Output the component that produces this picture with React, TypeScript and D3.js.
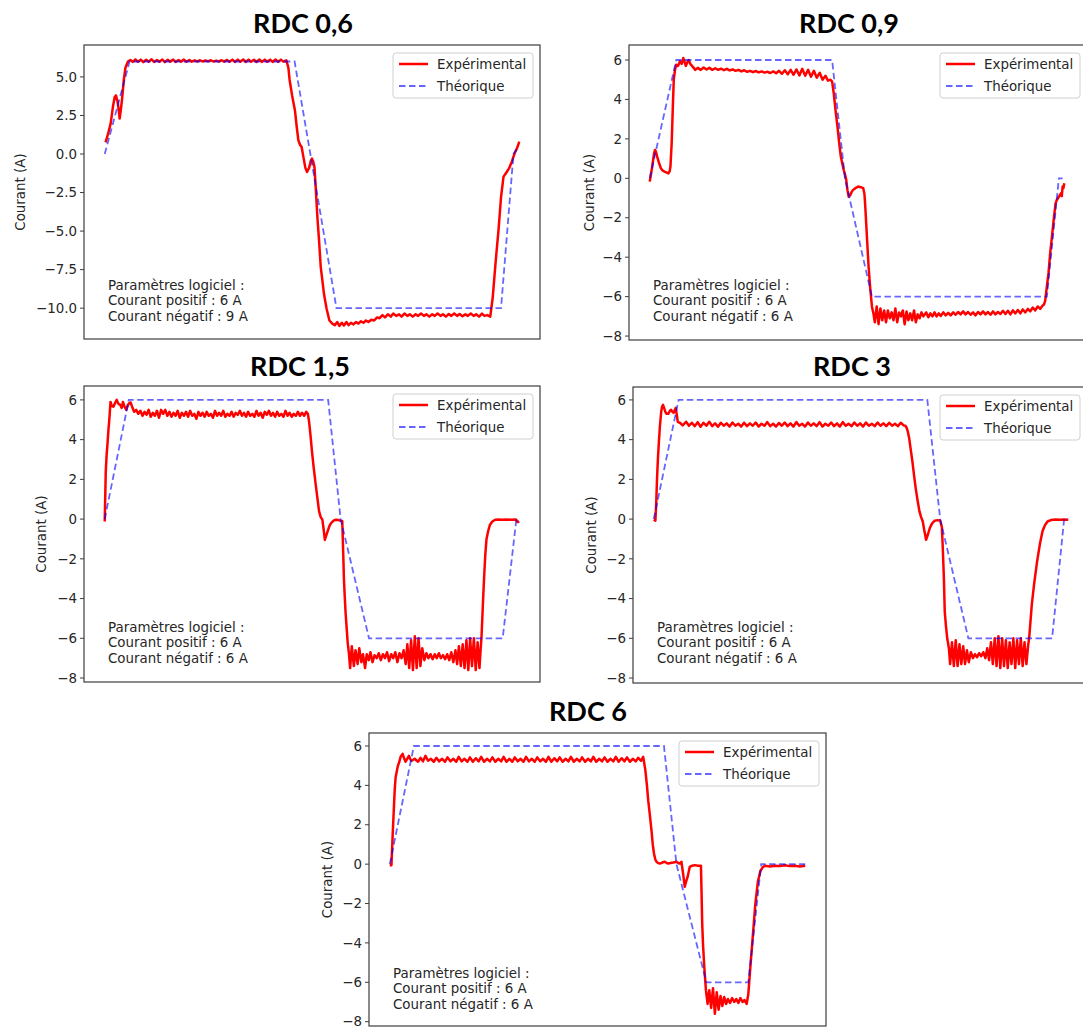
import React from 'react';
import * as d3 from 'd3';

type Pt = [number, number];

// ---------- DATA (x = relative time 0..100, y = current in A) ----------
const rdc06Experimental: Pt[] = [
  [0.2,0.75],[0.8,1.3],[1.45,2.0],[2.0,3.1],[2.4,3.7],[2.7,3.8],[3.1,3.4],[3.4,2.8],[3.6,2.3],[3.9,2.9],[4.2,3.6],[4.6,4.8],[5.0,5.6],[5.6,6.0],[6.2,6.1],
  [6.8,5.97],[7.4,6.13],[8.0,5.98],[8.7,6.12],[9.3,5.96],[10.0,6.11],[10.6,5.99],[11.3,6.14],[11.9,5.97],[12.6,6.1],[13.2,5.98],[13.9,6.13],[14.5,5.96],[15.2,6.11],[15.8,5.99],[16.5,6.12],[17.1,5.97],[17.8,6.1],[18.4,5.99],[19.1,6.12],[19.7,5.98],[20.4,6.1],[21.0,5.99],[21.7,6.08],[22.3,6.0],[23.0,6.08],[23.6,6.0],[24.3,6.07],[24.9,6.01],[25.6,6.08],[26.2,6.0],[26.9,6.06],[27.5,6.0],[28.2,6.08],[28.8,5.99],[29.5,6.1],[30.1,5.98],[30.8,6.12],[31.4,5.97],[32.1,6.12],[32.7,5.98],[33.4,6.13],[34.0,5.97],[34.7,6.12],[35.3,5.98],[36.0,6.11],[36.6,5.97],[37.3,6.13],[37.9,5.97],[38.6,6.12],[39.2,5.98],[39.9,6.12],[40.5,5.97],[41.2,6.13],[41.8,5.98],[42.5,6.12],[43.1,5.99],[43.8,6.08],
  [44.3,5.6],[44.6,4.8],[45.2,3.8],[45.9,2.8],[46.3,1.8],[46.7,0.9],[47.1,0.6],[47.5,0.45],[48.0,-0.3],[48.4,-0.9],[48.8,-1.17],[49.3,-0.9],[49.7,-0.45],[50.0,-0.3],[50.3,-0.5],[50.6,-0.85],[50.9,-2.2],[51.3,-4.1],[51.7,-5.6],[52.1,-7.3],[52.5,-8.2],[52.9,-9.1],[53.5,-10.0],[54.2,-10.8],[54.9,-11.0],
  [55.5,-11.1],[56.1,-10.9],[56.6,-11.15],[57.2,-10.95],[57.7,-11.12],[58.3,-10.9],[58.8,-11.1],[59.4,-10.95],[60.0,-11.05],[60.6,-10.9],[61.2,-11.0],[61.8,-10.85],[62.4,-10.95],[63.0,-10.8],[63.6,-10.9],[64.3,-10.75],[65.0,-10.8],[65.7,-10.6],[66.3,-10.65],[67.0,-10.45],[67.6,-10.6],[68.3,-10.4],[69.0,-10.55],[69.6,-10.35],[70.3,-10.5],[71.0,-10.4],[71.6,-10.55],[72.3,-10.35],[73.0,-10.5],[73.6,-10.4],[74.3,-10.55],[75.0,-10.4],[75.6,-10.5],[76.3,-10.35],[77.0,-10.5],[77.6,-10.4],[78.3,-10.55],[79.0,-10.4],[79.6,-10.5],[80.3,-10.35],[81.0,-10.5],[81.6,-10.4],[82.3,-10.55],[83.0,-10.38],[83.6,-10.5],[84.3,-10.35],[85.0,-10.5],[85.6,-10.38],[86.3,-10.52],[87.0,-10.4],[87.6,-10.5],[88.3,-10.35],[89.0,-10.5],[89.6,-10.4],[90.3,-10.55],[91.0,-10.35],[91.6,-10.5],[92.3,-10.45],[93.0,-10.55],
  [93.6,-9.3],[94.3,-7.0],[95.0,-4.9],[95.6,-2.8],[96.2,-1.47],[96.9,-1.2],[97.5,-0.95],[98.2,-0.5],[98.9,0.06],[99.5,0.4],[100,0.8],
];
const rdc06Theoretical: Pt[] = [[0,0],[6.0,6],[45.8,6],[49.6,0],[55.9,-10],[95.6,-10],[98.6,0],[99.4,0.3]];

const rdc09Experimental: Pt[] = [
  [0,-0.17],[0.3,0.2],[0.6,0.6],[1.0,1.2],[1.25,1.44],[1.5,1.35],[1.8,1.1],[2.2,0.8],[2.7,0.5],[3.1,0.4],[3.5,0.34],[4.0,0.3],[4.5,0.25],[4.8,0.35],[5.0,0.6],[5.3,1.8],[5.6,3.8],[5.8,5.0],[6.1,5.5],[6.4,5.76],[6.8,5.7],[7.3,5.93],[7.7,5.8],[8.1,6.1],[8.4,5.9],[8.7,5.7],[9.0,5.85],[9.4,6.0],[9.8,5.8],[10.2,5.7],[10.6,5.6],[11.0,5.5],
  [11.6,5.6],[12.3,5.5],[13.0,5.62],[13.7,5.52],[14.4,5.6],[15.1,5.5],[15.8,5.58],[16.5,5.5],[17.2,5.56],[17.9,5.48],[18.6,5.55],[19.3,5.47],[20.0,5.52],[20.7,5.45],[21.4,5.5],[22.1,5.42],[22.8,5.48],[23.5,5.4],[24.2,5.45],[24.9,5.38],[25.6,5.44],[26.3,5.37],[27.0,5.42],[27.7,5.36],[28.4,5.4],[29.1,5.34],[29.8,5.42],[30.5,5.33],[31.2,5.45],[31.9,5.3],[32.6,5.48],[33.3,5.28],[34.0,5.5],[34.7,5.25],[35.4,5.52],[36.1,5.22],[36.8,5.55],[37.5,5.2],[38.2,5.5],[38.9,5.15],[39.6,5.45],[40.3,5.1],[41.0,5.35],[41.7,5.0],[42.4,5.2],[43.0,4.95],[43.6,5.0],[44.0,4.9],
  [44.4,4.3],[44.8,3.5],[45.3,2.6],[45.7,1.8],[46.1,1.1],[46.5,0.7],[46.8,0.42],[47.1,0.2],[47.4,-0.08],[47.7,-0.6],[48.0,-0.93],[48.4,-0.85],[48.7,-0.7],[49.0,-0.6],[49.6,-0.5],[50.3,-0.42],[50.9,-0.45],[51.5,-0.5],[51.8,-0.8],[52.0,-1.44],[52.4,-3.0],[52.8,-4.5],[53.2,-5.6],[53.6,-6.5],[54.0,-6.9],
  [54.3,-7.3],[54.75,-6.5],[55.2,-7.4],[55.65,-6.6],[56.1,-7.2],[56.55,-6.7],[57.0,-7.3],[57.45,-6.7],[57.9,-7.1],[58.35,-6.8],[58.8,-7.2],[59.25,-6.6],[59.7,-7.3],[60.15,-6.8],[60.6,-7.0],[61.05,-6.7],[61.5,-7.4],[61.95,-6.75],[62.4,-7.2],[62.85,-6.85],[63.3,-7.2],[63.75,-6.7],[64.2,-7.3],[64.65,-6.9],[65.1,-7.1],[65.55,-6.8],[66.0,-7.0],
  [66.7,-6.8],[67.2,-7.05],[67.7,-6.85],[68.2,-7.0],[68.7,-6.8],[69.2,-7.0],[69.7,-6.85],[70.2,-6.98],[70.8,-6.8],[71.4,-6.95],[72.0,-6.82],[72.6,-6.95],[73.2,-6.8],[73.8,-6.92],[74.4,-6.78],[75.0,-6.9],[75.6,-6.75],[76.2,-6.9],[76.8,-6.78],[77.4,-6.92],[78.0,-6.8],[78.6,-6.95],[79.2,-6.78],[79.8,-6.9],[80.4,-6.75],[81.0,-6.9],[81.6,-6.78],[82.2,-6.92],[82.8,-6.75],[83.4,-6.9],[84.0,-6.78],[84.6,-6.88],[85.2,-6.72],[85.8,-6.88],[86.4,-6.72],[87.0,-6.9],[87.6,-6.7],[88.2,-6.85],[88.8,-6.68],[89.4,-6.85],[90.0,-6.65],[90.6,-6.8],[91.2,-6.62],[91.8,-6.75],[92.4,-6.55],[93.0,-6.7],[93.6,-6.5],[94.2,-6.62],[94.8,-6.45],[95.1,-6.4],
  [95.4,-6.2],[95.8,-5.5],[96.2,-4.8],[96.6,-3.8],[97.1,-2.8],[97.5,-2.0],[97.9,-1.27],[98.2,-1.1],[98.5,-1.0],[98.8,-0.9],[99.2,-0.76],[99.4,-0.9],[99.6,-0.42],[99.8,-0.5],[100,-0.25],
];
const rdc09Theoretical: Pt[] = [[0,0],[6.4,6],[44.0,6],[47.1,0],[53.6,-6],[95.8,-6],[98.7,0],[99.6,0]];

const rdc15Experimental: Pt[] = [
  [0,-0.12],[0.25,2.4],[0.45,3.2],[0.67,3.8],[0.9,4.5],[1.1,5.0],[1.4,5.9],[1.7,5.7],[2.1,5.66],[2.5,5.85],[2.9,6.0],[3.3,5.8],[3.75,5.75],[4.1,5.6],[4.4,5.9],[4.8,5.65],[5.2,5.5],[5.6,5.75],[6.0,5.85],[6.25,5.87],[6.7,5.6],[7.1,5.4],
  [7.6,5.5],[8.1,5.3],[8.6,5.45],[9.1,5.2],[9.6,5.4],[10.1,5.25],[10.6,5.5],[11.1,5.15],[11.6,5.35],[12.1,5.2],[12.6,5.45],[13.1,5.1],[13.6,5.5],[14.1,5.3],[14.6,5.5],[15.1,5.2],[15.6,5.4],[16.1,5.15],[16.6,5.35],[17.1,5.2],[17.6,5.45],[18.1,5.1],[18.6,5.35],[19.1,5.2],[19.6,5.4],[20.1,5.15],[20.6,5.45],[21.1,5.2],[21.6,5.3],[22.1,5.05],[22.6,5.4],[23.1,5.2],[23.6,5.35],[24.1,5.15],[24.6,5.4],[25.1,5.2],[25.6,5.3],[26.1,5.1],[26.6,5.45],[27.1,5.2],[27.6,5.35],[28.1,5.2],[28.6,5.45],[29.1,5.15],[29.6,5.3],[30.1,5.2],[30.6,5.4],[31.1,5.15],[31.6,5.35],[32.1,5.25],[32.6,5.45],[33.1,5.2],[33.6,5.35],[34.1,5.15],[34.6,5.4],[35.1,5.2],[35.6,5.3],[36.1,5.15],[36.6,5.45],[37.1,5.2],[37.6,5.35],[38.1,5.1],[38.6,5.4],[39.1,5.25],[39.6,5.45],[40.1,5.2],[40.6,5.35],[41.1,5.15],[41.6,5.4],[42.1,5.2],[42.6,5.3],[43.1,5.15],[43.6,5.45],[44.1,5.2],[44.6,5.35],[45.1,5.15],[45.6,5.3],[46.1,5.2],[46.6,5.4],[47.1,5.2],[47.6,5.35],[48.1,5.2],[48.6,5.4],[49.0,5.3],
  [49.3,4.9],[49.6,4.3],[50.0,3.4],[50.4,2.6],[50.8,1.9],[51.1,1.4],[51.4,0.9],[51.7,0.4],[52.1,0.1],[52.5,-0.03],[52.8,-0.5],[53.1,-1.05],[53.4,-0.85],[53.75,-0.63],[54.2,-0.35],[54.6,-0.2],[55.2,-0.08],[55.8,-0.03],[56.4,-0.05],[56.9,-0.08],[57.3,-0.1],[57.5,-1.5],[57.7,-3.0],[57.9,-3.9],[58.1,-4.7],[58.4,-5.6],[58.6,-6.2],[58.9,-6.75],
  [59.2,-7.5],[59.6,-6.4],[60.1,-7.4],[60.5,-6.6],[61.0,-7.3],[61.4,-6.5],[61.9,-7.2],[62.3,-6.8],[62.8,-7.5],[63.2,-6.8],[63.7,-7.1],[64.1,-6.7],[64.6,-7.2],
  [65.1,-6.85],[65.6,-7.0],[66.1,-6.75],[66.6,-7.1],[67.1,-6.8],[67.6,-7.0],[68.1,-6.7],[68.6,-7.15],[69.1,-6.8],[69.6,-7.0],[70.1,-6.7],[70.6,-7.2],[71.1,-6.75],[71.6,-7.0],[72.1,-6.6],[72.6,-7.3],
  [73.0,-6.3],[73.45,-7.5],[73.9,-6.1],[74.35,-7.6],[74.8,-5.9],[75.25,-7.5],[75.7,-6.0],[76.15,-7.4],[76.6,-6.5],
  [77.1,-7.1],[77.6,-6.75],[78.1,-7.0],[78.6,-6.8],[79.1,-7.05],[79.6,-6.8],[80.1,-7.0],[80.6,-6.75],[81.1,-7.0],[81.6,-6.85],[82.1,-7.05],[82.6,-6.8],[83.1,-7.1],[83.6,-6.7],[84.1,-7.2],[84.6,-6.6],
  [85.0,-7.3],[85.45,-6.4],[85.9,-7.4],[86.35,-6.3],[86.8,-7.5],[87.25,-6.1],[87.7,-7.6],[88.15,-6.0],[88.6,-7.4],[89.05,-6.0],[89.5,-7.6],[89.95,-6.2],[90.4,-7.5],[90.7,-6.5],
  [90.9,-5.9],[91.2,-4.4],[91.5,-3.0],[91.8,-1.8],[92.1,-1.0],[92.5,-0.6],[92.9,-0.3],[93.5,-0.12],[94.2,-0.03],[95.0,-0.02],[96.0,-0.03],[97.0,-0.02],[98.0,-0.03],[99.2,-0.02],[99.6,-0.15],[100,-0.12],
];
const rdc15Theoretical: Pt[] = [[0,0],[5.8,6],[53.9,6],[56.9,0],[63.75,-6],[96.0,-6],[99.3,0],[100,0]];

const rdc3Experimental: Pt[] = [
  [0,-0.03],[0.4,-0.08],[0.6,0.8],[0.8,2.06],[1.0,3.0],[1.25,3.9],[1.5,4.7],[1.8,5.4],[2.0,5.65],[2.25,5.75],[2.5,5.6],[2.8,5.4],[3.1,5.3],[3.5,5.3],[3.9,5.45],[4.2,5.5],[4.5,5.4],[4.8,5.35],[5.1,5.5],[5.3,5.6],[5.6,5.2],[5.8,4.9],
  [6.3,4.85],[7.0,4.72],[7.8,4.9],[8.5,4.7],[9.2,4.85],[9.9,4.68],[10.6,4.88],[11.3,4.65],[12.0,4.85],[12.7,4.7],[13.4,4.9],[14.1,4.68],[14.8,4.82],[15.5,4.65],[16.2,4.85],[16.9,4.7],[17.6,4.82],[18.3,4.66],[19.0,4.86],[19.7,4.7],[20.4,4.8],[21.1,4.66],[21.8,4.85],[22.5,4.68],[23.2,4.82],[23.9,4.7],[24.6,4.86],[25.3,4.66],[26.0,4.8],[26.7,4.7],[27.4,4.88],[28.1,4.68],[28.8,4.8],[29.5,4.66],[30.2,4.84],[30.9,4.7],[31.6,4.86],[32.3,4.68],[33.0,4.82],[33.7,4.66],[34.4,4.88],[35.1,4.7],[35.8,4.8],[36.5,4.66],[37.2,4.86],[37.9,4.7],[38.6,4.82],[39.3,4.68],[40.0,4.88],[40.7,4.66],[41.4,4.8],[42.1,4.7],[42.8,4.86],[43.5,4.68],[44.2,4.82],[44.9,4.66],[45.6,4.88],[46.3,4.7],[47.0,4.8],[47.7,4.68],[48.4,4.86],[49.1,4.7],[49.8,4.82],[50.5,4.66],[51.2,4.86],[51.9,4.7],[52.6,4.8],[53.3,4.68],[54.0,4.86],[54.7,4.7],[55.4,4.82],[56.1,4.68],[56.8,4.85],[57.5,4.7],[58.2,4.8],[58.9,4.68],[59.6,4.85],[60.3,4.72],
  [60.7,4.7],[61.0,4.6],[61.3,4.4],[61.6,4.1],[62.0,3.5],[62.4,2.9],[62.8,2.2],[63.2,1.55],[63.6,1.0],[64.1,0.39],[64.5,0.1],[64.9,-0.12],[65.3,-0.6],[65.7,-1.04],[66.1,-0.8],[66.6,-0.45],[67.2,-0.2],[67.8,-0.08],[68.5,-0.05],[69.1,-0.08],[69.5,-0.4],[69.7,-1.3],[70.0,-3.0],[70.2,-4.65],[70.5,-5.4],[70.8,-6.0],[71.2,-6.5],
  [71.5,-7.3],[71.95,-6.2],[72.4,-7.4],[72.85,-6.1],[73.3,-7.4],[73.75,-6.3],[74.2,-7.3],[74.65,-6.4],[75.1,-7.3],[75.55,-6.6],[76.0,-7.2],[76.5,-6.7],[77.0,-7.0],[77.5,-6.8],[78.0,-6.95],[78.5,-6.75],[79.0,-6.9],[79.5,-6.7],[80.0,-7.0],[80.45,-6.5],[80.9,-7.1],[81.35,-6.2],[81.8,-7.3],[82.25,-6.0],[82.7,-7.4],[83.15,-5.9],[83.6,-7.5],[84.05,-6.0],[84.5,-7.4],[84.95,-6.1],[85.4,-7.5],[85.85,-6.2],[86.3,-7.3],[86.75,-6.0],[87.2,-7.5],[87.65,-6.1],[88.1,-7.3],[88.55,-6.0],[89.0,-7.4],[89.45,-6.2],[89.9,-7.3],[90.3,-6.4],
  [90.6,-5.9],[91.2,-4.3],[91.8,-3.2],[92.5,-2.1],[93.2,-1.2],[93.8,-0.6],[94.4,-0.3],[95.0,-0.12],[95.8,-0.05],[97.0,-0.02],[98.0,-0.03],[99.0,-0.02],[100,-0.03],
];
const rdc3Theoretical: Pt[] = [[0,0],[6.0,6],[66.0,6],[69.1,0],[75.9,-6],[96.1,-6],[99.0,0]];

const rdc6Experimental: Pt[] = [
  [0,-0.05],[0.4,-0.05],[0.7,1.5],[1.0,2.9],[1.2,3.8],[1.4,4.4],[1.9,4.95],[2.3,5.2],[2.6,5.45],[3.1,5.6],[3.4,5.4],[3.8,5.2],[4.2,5.35],[4.6,5.5],[4.9,5.35],[5.2,5.24],
  [6.0,5.35],[6.8,5.2],[7.4,5.4],[8.0,5.22],[8.6,5.5],[9.2,5.25],[9.9,5.35],[10.6,5.2],[11.2,5.4],[11.9,5.22],[12.6,5.35],[13.3,5.2],[13.9,5.42],[14.6,5.22],[15.3,5.35],[16.0,5.2],[16.6,5.45],[17.3,5.22],[18.0,5.35],[18.7,5.2],[19.3,5.42],[20.0,5.2],[20.7,5.38],[21.4,5.22],[22.0,5.45],[22.7,5.2],[23.4,5.35],[24.1,5.22],[24.7,5.42],[25.4,5.2],[26.1,5.35],[26.8,5.22],[27.4,5.45],[28.1,5.2],[28.8,5.35],[29.5,5.2],[30.1,5.42],[30.8,5.22],[31.5,5.35],[32.2,5.2],[32.8,5.45],[33.5,5.22],[34.2,5.35],[34.9,5.2],[35.5,5.42],[36.2,5.22],[36.9,5.35],[37.6,5.2],[38.2,5.45],[38.9,5.2],[39.6,5.38],[40.3,5.22],[40.9,5.42],[41.6,5.2],[42.3,5.35],[43.0,5.22],[43.6,5.45],[44.3,5.2],[45.0,5.35],[45.7,5.22],[46.3,5.42],[47.0,5.2],[47.7,5.35],[48.4,5.22],[49.0,5.45],[49.7,5.2],[50.4,5.35],[51.1,5.22],[51.7,5.42],[52.4,5.2],[53.1,5.35],[53.8,5.22],[54.4,5.45],[55.1,5.2],[55.8,5.38],[56.5,5.22],[57.1,5.42],[57.8,5.2],[58.5,5.35],[59.2,5.22],[59.8,5.4],[60.5,5.25],[61.0,5.45],
  [61.5,4.8],[61.9,4.0],[62.2,3.25],[62.6,2.5],[63.0,1.7],[63.3,1.0],[63.6,0.54],[63.9,0.25],[64.2,0.12],[64.6,0.05],[65.0,0.03],[65.6,0.08],[66.2,0.12],[66.6,0.07],[67.0,0.03],[67.6,0.06],[68.2,0.08],[68.6,0.1],[69.0,0.12],[69.4,0.06],[69.8,0.03],[70.2,0.12],[70.6,-0.47],[71.0,-1.15],[71.3,-0.9],[71.7,-0.64],[72.2,-0.14],[72.8,-0.08],[73.4,-0.05],[74.2,-0.08],[74.9,-0.08],[75.05,-1.5],[75.2,-3.0],[75.4,-4.1],[75.7,-5.2],[76.1,-6.4],[76.5,-7.1],
  [76.9,-6.4],[77.35,-7.3],[77.8,-6.3],[78.25,-7.6],[78.7,-6.5],[79.15,-7.4],[79.6,-6.7],[80.05,-7.2],[80.5,-6.75],[80.95,-7.1],[81.4,-6.85],[81.9,-7.05],[82.4,-6.8],[82.9,-7.0],[83.4,-6.85],[83.9,-7.05],[84.4,-6.8],[84.9,-7.0],[85.4,-6.9],[85.9,-7.1],
  [86.3,-6.6],[86.8,-5.2],[87.4,-3.6],[88.0,-2.0],[88.6,-0.9],[89.2,-0.35],[89.8,-0.15],[90.3,-0.08],[91.5,-0.12],[92.7,-0.08],[93.9,-0.1],[95.1,-0.06],[96.3,-0.1],[97.5,-0.08],[98.7,-0.12],[100,-0.08],
];
const rdc6Theoretical: Pt[] = [[0,0],[5.8,6],[66.0,6],[69.0,0],[76.2,-6],[86.3,-6],[89.4,0],[100,0]];

const panelTitles = ['RDC 0,6', 'RDC 0,9', 'RDC 1,5', 'RDC 3', 'RDC 6'];
const yTicksRdc06 = [-10, -7.5, -5, -2.5, 0, 2.5, 5];
const yTicksStandard = [-8, -6, -4, -2, 0, 2, 4, 6];
const legendLabels = ['Expérimental', 'Théorique'];
const yAxisLabel = 'Courant (A)';
const paramsRdc06 = ['Paramètres logiciel :', 'Courant positif : 6 A', 'Courant négatif : 9 A'];
const paramsStandard = ['Paramètres logiciel :', 'Courant positif : 6 A', 'Courant négatif : 6 A'];

// ---------- LAYOUT ----------
type PanelCfg = {
  title: string; exp: Pt[]; theo: Pt[]; ticks: number[]; decimals: number; params: string[];
  left: number; right: number; top: number; bottom: number; yDomain: [number, number];
  titleX: number; titleY: number; ylabelX: number; textX: number; textY: number;
};

const panels: PanelCfg[] = [
  { title: panelTitles[0], exp: rdc06Experimental, theo: rdc06Theoretical, ticks: yTicksRdc06, decimals: 1, params: paramsRdc06,
    left: 84, right: 540, top: 45, bottom: 339, yDomain: [-12.0, 7.07], titleX: 303, titleY: 33, ylabelX: 20, textX: 108, textY: 285 },
  { title: panelTitles[1], exp: rdc09Experimental, theo: rdc09Theoretical, ticks: yTicksStandard, decimals: 0, params: paramsStandard,
    left: 629, right: 1085, top: 45, bottom: 340, yDomain: [-8.2, 6.76], titleX: 849, titleY: 33, ylabelX: 589, textX: 653, textY: 285 },
  { title: panelTitles[2], exp: rdc15Experimental, theo: rdc15Theoretical, ticks: yTicksStandard, decimals: 0, params: paramsStandard,
    left: 84, right: 540, top: 386, bottom: 682, yDomain: [-8.2, 6.7], titleX: 300, titleY: 376, ylabelX: 41, textX: 108, textY: 627 },
  { title: panelTitles[3], exp: rdc3Experimental, theo: rdc3Theoretical, ticks: yTicksStandard, decimals: 0, params: paramsStandard,
    left: 633, right: 1089, top: 387, bottom: 683, yDomain: [-8.25, 6.65], titleX: 852, titleY: 376, ylabelX: 591, textX: 657, textY: 627 },
  { title: panelTitles[4], exp: rdc6Experimental, theo: rdc6Theoretical, ticks: yTicksStandard, decimals: 0, params: paramsStandard,
    left: 369, right: 826, top: 733, bottom: 1026, yDomain: [-8.22, 6.66], titleX: 588, titleY: 721, ylabelX: 327, textX: 393, textY: 973 },
];

const FONT = '"DejaVu Sans", sans-serif';
const FS = 13.4;
const INK = '#262626';
const FRAME = '#3d3d3d';
const RED_W = 2.5;

function fmt(v: number, decimals: number) {
  const s = Math.abs(v).toFixed(decimals);
  return (v < 0 ? '\u2212' : '') + s;
}

function Panel({ p }: { p: PanelCfg }) {
  const x = d3.scaleLinear().domain([-5, 105]).range([p.left, p.right]);
  const y = d3.scaleLinear().domain(p.yDomain).range([p.bottom, p.top]);
  const line = d3.line<Pt>().x(d => x(d[0])).y(d => y(d[1]));
  const cy = (p.top + p.bottom) / 2;
  const lgW = 140, lgH = 45;
  const lgX = Math.min(p.right, 1083) - 7 - lgW + (p.right > 1083 ? 4 : 0);
  const lgY = p.top + 8;
  return (
    <g>
      <text x={p.titleX} y={p.titleY} textAnchor="middle" fontFamily='Lato, "Open Sans", sans-serif' fontWeight={700} fontSize={27} fill="#000">{p.title}</text>
      <rect x={p.left} y={p.top} width={p.right - p.left} height={p.bottom - p.top} fill="#fff" />
      <path d={line(p.exp) || ''} fill="none" stroke="#ff0000" strokeWidth={RED_W} strokeLinejoin="round" />
      <path d={line(p.theo) || ''} fill="none" stroke="#0000ff" strokeOpacity={0.6} strokeWidth={1.8} strokeDasharray="6.5 3.5" />
      <rect x={p.left} y={p.top} width={p.right - p.left} height={p.bottom - p.top} fill="none" stroke={FRAME} strokeWidth={1.2} />
      {p.ticks.map(t => (
        <g key={t}>
          <line x1={p.left - 4} x2={p.left} y1={y(t)} y2={y(t)} stroke={FRAME} strokeWidth={1} />
          <text x={p.left - 7} y={Math.min(y(t), 1021)} dy="0.35em" textAnchor="end" fontFamily={FONT} fontSize={FS} fill={INK}>{fmt(t, p.decimals)}</text>
        </g>
      ))}
      <text transform={`translate(${p.ylabelX},${cy}) rotate(-90)`} textAnchor="middle" dy="0.35em" fontFamily={FONT} fontSize={FS} fill={INK}>{yAxisLabel}</text>
      {p.params.map((s, i) => (
        <text key={i} x={p.textX} y={p.textY + i * 15.8} dy="0.35em" fontFamily={FONT} fontSize={FS} fill={INK}>{s}</text>
      ))}
      <rect x={lgX} y={lgY} width={lgW} height={lgH} rx={3} fill="#fff" fillOpacity={0.8} stroke="#d0d0d0" strokeWidth={1} />
      <line x1={lgX + 6} x2={lgX + 35} y1={lgY + 11} y2={lgY + 11} stroke="#ff0000" strokeWidth={RED_W} />
      <line x1={lgX + 6} x2={lgX + 35} y1={lgY + 33} y2={lgY + 33} stroke="#0000ff" strokeOpacity={0.6} strokeWidth={1.8} strokeDasharray="6.5 3.5" />
      <text x={lgX + 44} y={lgY + 11} dy="0.35em" fontFamily={FONT} fontSize={FS} fill={INK}>{legendLabels[0]}</text>
      <text x={lgX + 44} y={lgY + 33} dy="0.35em" fontFamily={FONT} fontSize={FS} fill={INK}>{legendLabels[1]}</text>
    </g>
  );
}

export default function App() {
  return (
    <svg width={1083} height={1028} viewBox="0 0 1083 1028"
      style={{ position: 'absolute', left: 0, top: 0, background: '#fff', display: 'block' }}>
      <rect x={0} y={0} width={1083} height={1028} fill="#fff" />
      {panels.map((p, i) => <Panel key={i} p={p} />)}
    </svg>
  );
}
